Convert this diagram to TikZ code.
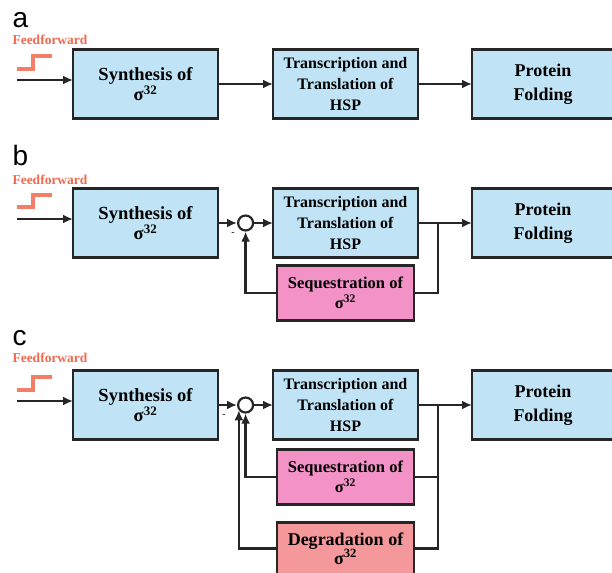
\documentclass[tikz,border=0pt]{standalone}
\usepackage{fontspec}
\setmainfont{Liberation Serif}
\newfontfamily\panelfont{Liberation Sans}
\usepackage{tikz}
\usetikzlibrary{positioning, arrows.meta}
\definecolor{boxblue}{RGB}{192,228,246}
\definecolor{boxpink}{RGB}{242,146,198}
\definecolor{boxred}{RGB}{244,152,156}
\definecolor{ffred}{RGB}{242,104,78}
\newcommand{\sig}{σ\textsuperscript{32}}

\begin{document}
\begin{tikzpicture}[x=1pt, y=-1pt, node distance=55pt,
  main node/.style={rectangle, draw=black!85, line width=2.5pt, inner sep=1pt, outer sep=0pt,
    align=center, font=\bfseries\fontsize{16}{21}\selectfont},
  blue node/.style={main node, fill=boxblue, minimum width=145pt, minimum height=69pt},
  pink node/.style={main node, fill=boxpink, minimum width=137pt, minimum height=55pt},
  red node/.style={main node, fill=boxred, minimum width=137pt, minimum height=55pt},
  sum node/.style={circle, draw=black!85, line width=2.2pt, fill=white, minimum size=15pt, inner sep=0pt},
  arrow line/.style={line width=2.5pt, draw=black!85, -{Latex[length=10pt, width=9pt]}},
  plain line/.style={line width=2.5pt, draw=black!85},
  step line/.style={line width=3.2pt, draw=ffred!85},
  ff text/.style={text=ffred, font=\bfseries\fontsize{13.5}{14}\selectfont},
  panel label/.style={anchor=base west, font=\panelfont\fontsize{28}{28}\selectfont}]

\useasboundingbox (0,0) rectangle (612,572);

% panel a
\node[panel label] (la) at (9,28) {a};
\node[ff text] (ffa) at (50,40) {Feedforward};
\draw[step line] (17,69) -- (33,69) -- (33,56) -- (52,56);
\node[blue node, font=\bfseries\fontsize{18.5}{20}\selectfont] (syna) at (145.5,84) {Synthesis of\\\sig};
\node[blue node] (transa) [right=55pt of syna] {Transcription and\\Translation of\\HSP};
\node[blue node, minimum width=142pt, font=\bfseries\fontsize{18}{24}\selectfont] (prota) [right=54pt of transa] {Protein\\Folding};
\coordinate (ina) at (17,80);
\draw[arrow line] (ina) -- (ina -| syna.west);
\draw[arrow line] (syna) -- (transa);
\draw[arrow line] (transa) -- (prota);

% panel b
\node[panel label] (lb) at (9,165) {b};
\node[ff text] (ffb) at (50,180) {Feedforward};
\draw[step line] (17,207) -- (33,207) -- (33,195) -- (52,195);
\node[blue node, font=\bfseries\fontsize{18.5}{20}\selectfont] (synb) at (145.5,223) {Synthesis of\\\sig};
\node[sum node] (sumb) [right=19pt of synb] {};
\node[blue node] (transb) [right=55pt of synb] {Transcription and\\Translation of\\HSP};
\node[blue node, minimum width=142pt, font=\bfseries\fontsize{18}{24}\selectfont] (protb) [right=54pt of transb] {Protein\\Folding};
\node[pink node, font=\bfseries\fontsize{16.5}{20}\selectfont] (seqb) [below=8pt of transb] {Sequestration of\\\sig};
\node (minb) at (233,234) {-};
\coordinate (inb) at (17,219);
\coordinate[right=20pt of transb] (brb);
\draw[arrow line] (inb) -- (inb -| synb.west);
\draw[arrow line] (synb) -- (sumb);
\draw[arrow line] (sumb) -- (transb);
\draw[arrow line] (transb) -- (protb);
\draw[plain line] (brb) |- (seqb);
\draw[arrow line] (seqb) -| (sumb);

% panel c
\node[panel label] (lc) at (9,345) {c};
\node[ff text] (ffc) at (50,358) {Feedforward};
\draw[step line] (17,390) -- (33,390) -- (33,377) -- (52,377);
\node[blue node, font=\bfseries\fontsize{18.5}{20}\selectfont] (sync) at (145.5,405) {Synthesis of\\\sig};
\node[sum node] (sumc) [right=19pt of sync] {};
\node[blue node] (transc) [right=55pt of sync] {Transcription and\\Translation of\\HSP};
\node[blue node, minimum width=142pt, font=\bfseries\fontsize{18}{24}\selectfont] (protc) [right=54pt of transc] {Protein\\Folding};
\node[pink node, font=\bfseries\fontsize{16.5}{20}\selectfont] (seqc) [below=10pt of transc] {Sequestration of\\\sig};
\node[red node, minimum height=52pt, font=\bfseries\fontsize{18}{19}\selectfont] (degc) [below=18pt of seqc] {Degradation of\\\sig};
\node (minc) at (224,416) {-};
\coordinate (inc) at (17,401);
\coordinate[right=20pt of transc] (brc);
\draw[arrow line] (inc) -- (inc -| sync.west);
\draw[arrow line] (sync) -- (sumc);
\draw[arrow line] (sumc) -- (transc);
\draw[arrow line] (transc) -- (protc);
\draw[plain line] (brc) |- (seqc);
\draw[plain line] (brc) |- (degc);
\draw[arrow line] (seqc) -| (sumc);
\draw[arrow line] (degc) -| (sumc.218);
\end{tikzpicture}
\end{document}
